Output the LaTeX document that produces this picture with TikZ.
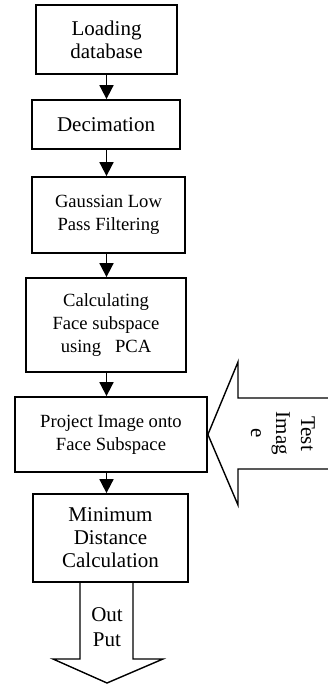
\documentclass[tikz,border=0pt]{standalone}
\usepackage{fontspec}
\setmainfont{Liberation Serif}
\usetikzlibrary{arrows.meta}
\tikzset{
  stepbox/.style={draw, line width=1.8pt, inner sep=0pt, align=center,
    font=\fontsize{21}{23}\selectfont},
  smallbox/.style={stepbox, font=\fontsize{18.6}{23}\selectfont},
  flow/.style={line width=1.8pt, -{Triangle[width=14pt,length=14pt]}},
  bigarrow/.style={draw, line width=1.4pt, line join=miter},
  bigtext/.style={align=center, inner sep=0pt, font=\fontsize{21}{25}\selectfont}
}
\begin{document}
\begin{tikzpicture}[x=1pt,y=-1pt]
  \useasboundingbox (0,0) rectangle (328,685);
  \coordinate (spine) at (106.5,0);

  % processing steps
  \node[stepbox, minimum width=141pt, minimum height=69pt] (load) at (106.5,39.5) {Loading\\database};
  \node[stepbox, minimum width=148pt, minimum height=49pt] (dec) at (106,124.5) {Decimation};
  \node[smallbox, minimum width=153pt, minimum height=76pt] (gauss) at (108.5,215) {Gaussian Low\\Pass Filtering};
  \node[smallbox, minimum width=160pt, minimum height=94pt] (pca) at (106,325) {Calculating\\Face subspace\\using~~~PCA};
  \node[smallbox, minimum width=192pt, minimum height=75pt] (proj) at (111,434.5) {Project Image onto\\Face Subspace};
  \node[stepbox, minimum width=155pt, minimum height=88pt] (dist) at (110.5,538) {Minimum\\Distance\\Calculation};

  % connectors between steps
  \draw[flow] (load.south -| spine) -- (dec.north -| spine);
  \draw[flow] (dec.south -| spine) -- (gauss.north -| spine);
  \draw[flow] (gauss.south -| spine) -- (pca.north -| spine);
  \draw[flow] (pca.south -| spine) -- (proj.north -| spine);
  \draw[flow] (proj.south -| spine) -- (dist.north -| spine);

  % input block arrow
  \coordinate (tin) at (proj.east);
  \draw[bigarrow] (328,398) -- (238,398) -- (238,362) -- (tin) -- (238,505) -- (238,469) -- (328,469);
  \node[bigtext, rotate=-90] (testimg) at (283,433.5) {Test\\Imag\\e};

  % output block arrow
  \coordinate (oL) at (80,582);
  \coordinate (oR) at (133,582);
  \draw[bigarrow] (oL) -- (80,659) -- (53,659) -- (107,683) -- (163,659) -- (133,659) -- (oR);
  \node[bigtext] (output) at (107,627.5) {Out\\Put};
\end{tikzpicture}
\end{document}
